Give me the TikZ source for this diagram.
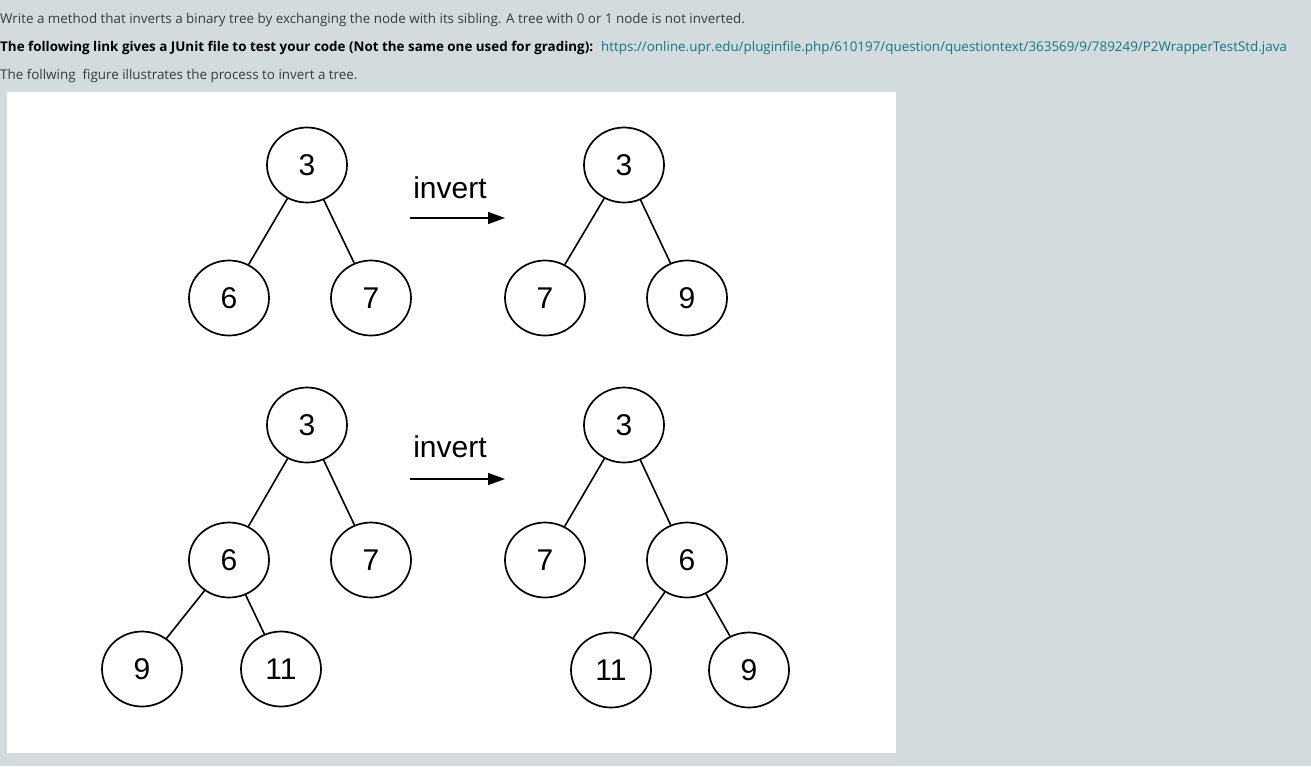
\documentclass[tikz,border=0pt]{standalone}
\usepackage{fontspec}
\setmainfont{Liberation Sans}
\newfontfamily\pagefont{Open Sans}
\usetikzlibrary{shapes.geometric,arrows.meta}
\definecolor{pagebg}{RGB}{211,219,221}
\definecolor{bodytext}{RGB}{55,58,60}
\definecolor{linktext}{RGB}{17,119,136}
\begin{document}
\begin{tikzpicture}[x=1pt, y=-1pt,
    t/.style={ellipse, draw, line width=1.7pt, fill=white, inner sep=0pt,
      minimum width=80pt, minimum height=75pt, font=\fontsize{30}{36}\selectfont},
    line/.style={line width=1.6pt},
    txt/.style={anchor=base west, inner sep=0pt, text=bodytext, font=\pagefont\fontsize{13.4}{15}\selectfont},
    lbl/.style={anchor=base, inner sep=0pt, font=\fontsize{30}{36}\selectfont}]
    \fill[pagebg] (0,0) rectangle (1311,766);
    \fill[white] (7,92) rectangle (896,753);
    \useasboundingbox (0,0) rectangle (1311,766);

    % question text
    \node[txt] (q1) at (0,23) {Write a method that inverts a binary tree by exchanging the node with its sibling. A tree with 0 or 1 node is not inverted.};
    \node[txt, font=\pagefont\bfseries\fontsize{13.4}{15}\selectfont, text=black] (q2) at (0,51) {The following link gives a JUnit file to test your code (Not the same one used for grading):};
    \node[txt, text=linktext] (url) at (601,51) {https://online.upr.edu/pluginfile.php/610197/question/questiontext/363569/9/789249/P2WrapperTestStd.java};
    \node[txt] (q3) at (0,79) {The follwing\ \ figure illustrates the process to invert a tree.};

    % first example
    \node[t] (a3) at (307,165) {3};
    \node[t] (a6) at (229,298) {6};
    \node[t] (a7) at (371,298) {7};
    \node[t] (b3) at (624,165) {3};
    \node[t] (b7) at (545,298) {7};
    \node[t] (b9) at (687,298) {9};

    \draw[line] (a3) edge (a6);
    \draw[line] (a3) edge (a7);
    \draw[line] (b3) edge (b7);
    \draw[line] (b3) edge (b9);

    \coordinate (s1) at (410,218);
    \coordinate (e1) at (505,218);
    \draw[line, -{Triangle[length=17pt, width=12pt]}] (s1) -- (e1);
    \node[lbl] (inv1) at (450,198) {invert};

    % second example
    \node[t] (c3) at (307,425) {3};
    \node[t] (c6) at (229,560) {6};
    \node[t] (c7) at (371,560) {7};
    \node[t] (c9) at (142,669) {9};
    \node[t] (c11) at (281,669) {11};
    \node[t] (d3) at (624,425) {3};
    \node[t] (d7) at (545,560) {7};
    \node[t] (d6) at (687,560) {6};
    \node[t] (d11) at (611,670) {11};
    \node[t] (d9) at (749,670) {9};

    \draw[line] (c3) edge (c6);
    \draw[line] (c3) edge (c7);
    \draw[line] (c6) edge (c9);
    \draw[line] (c6) edge (c11);
    \draw[line] (d3) edge (d7);
    \draw[line] (d3) edge (d6);
    \draw[line] (d6) edge (d11);
    \draw[line] (d6) edge (d9);

    \coordinate (s2) at (410,479);
    \coordinate (e2) at (505,479);
    \draw[line, -{Triangle[length=17pt, width=12pt]}] (s2) -- (e2);
    \node[lbl] (inv2) at (450,457) {invert};
\end{tikzpicture}
\end{document}
